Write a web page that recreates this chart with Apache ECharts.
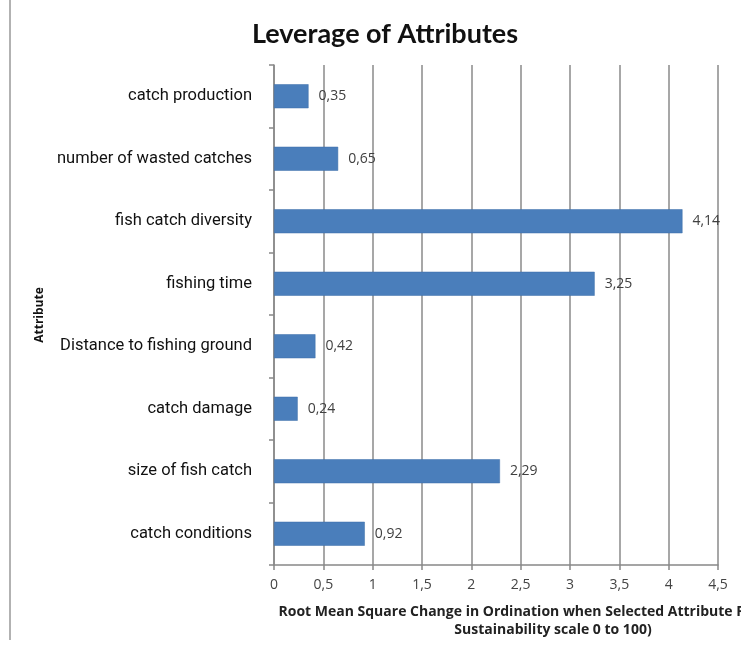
<!DOCTYPE html>
<html>
<head>
<meta charset="utf-8">
<script src="https://cdn.jsdelivr.net/npm/echarts@6/dist/echarts.min.js"></script>
<style>
  html, body { margin: 0; padding: 0; background: #fff; }
  #chart { width: 741px; height: 647px; }
</style>
</head>
<body>
<div id="chart"></div>
<script>
// top to bottom, as in the picture
const attributes = [
  "catch production",
  "number of wasted catches",
  "fish catch diversity",
  "fishing time",
  "Distance to fishing ground",
  "catch damage",
  "size of fish catch",
  "catch conditions"
];
const leverage = [0.35, 0.65, 4.14, 3.25, 0.42, 0.24, 2.29, 0.92];

const commaNum = (v) => String(v).replace(".", ",");

const chart = echarts.init(document.getElementById("chart"));
chart.setOption({
  animation: false,
  backgroundColor: "#fff",
  title: [
    {
      text: "Leverage of Attributes",
      left: 380,
      top: 16,
      textAlign: "center",
      textStyle: { fontFamily: "Lato", fontWeight: "bold", fontSize: 27, color: "#111" }
    },
    {
      text: "Root Mean Square Change in Ordination when Selected Attribute Removed (on\nSustainability scale 0 to 100)",
      left: 548,
      top: 598,
      textAlign: "center",
      textStyle: { fontFamily: "Open Sans", fontWeight: "bold", fontSize: 14, lineHeight: 18, color: "#222" }
    }
  ],
  graphic: [
    { type: "line", shape: { x1: 10, y1: 0, x2: 10, y2: 640 }, style: { stroke: "#999", lineWidth: 1.5 } }
  ],
  grid: { left: 274, right: 23, top: 65, bottom: 82 },
  xAxis: {
    type: "value",
    min: 0,
    max: 4.5,
    interval: 0.5,
    axisLine: { show: true, lineStyle: { color: "#888", width: 1.5 } },
    axisTick: { show: true, length: 5, lineStyle: { color: "#888", width: 1.5 } },
    axisLabel: {
      formatter: commaNum,
      margin: 13,
      fontFamily: "Open Sans",
      fontSize: 14,
      color: "#444"
    },
    splitLine: { show: true, lineStyle: { color: "#8a8a8a", width: 1.5 } }
  },
  yAxis: {
    type: "category",
    data: attributes,
    inverse: true,
    name: "Attribute",
    nameLocation: "middle",
    nameRotate: 90,
    nameGap: 226,
    nameTextStyle: { fontFamily: "Open Sans", fontWeight: "bold", fontSize: 12, color: "#111" },
    axisLine: { show: true, lineStyle: { color: "#888", width: 1.5 } },
    axisTick: { show: true, length: 5, lineStyle: { color: "#888", width: 1.5 } },
    axisLabel: {
      margin: 22,
      fontFamily: "Roboto",
      fontSize: 16.5,
      color: "#111"
    }
  },
  series: [
    {
      type: "bar",
      data: leverage,
      barWidth: 24,
      itemStyle: { color: "#4a7ebb", borderColor: "#3c6ea8", borderWidth: 0.5 },
      label: {
        show: true,
        position: "right",
        distance: 10,
        formatter: (p) => commaNum(p.value),
        fontFamily: "Open Sans",
        fontSize: 14,
        color: "#404040"
      }
    }
  ]
});
</script>
</body>
</html>
